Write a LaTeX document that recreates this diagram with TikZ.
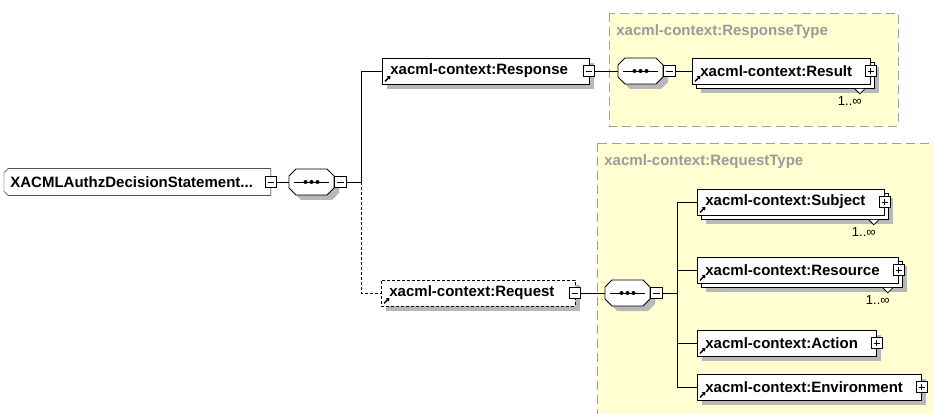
\documentclass[tikz,border=0pt]{standalone}
\usepackage{fontspec}
\setmainfont{Liberation Sans}
\usetikzlibrary{shadows,arrows.meta,backgrounds}
\colorlet{shadowgray}{black!28}
\definecolor{ybg}{HTML}{FFFFD2}
\definecolor{ttl}{HTML}{9A9A9A}
\definecolor{bdr}{HTML}{A0A0A0}

\newcommand\octdraw[1]{%
 \begin{scope}[shift={(#1.center)}]
  \fill[shadowgray] (-10.5,-8) -- (20.5,-8) -- (27.5,-1) -- (27.5,11) -- (20.5,18) -- (-10.5,18) -- (-17.5,11) -- (-17.5,-1) -- cycle;
  \draw[fill=white] (-15.5,-13) -- (15.5,-13) -- (22.5,-6) -- (22.5,6) -- (15.5,13) -- (-15.5,13) -- (-22.5,6) -- (-22.5,-6) -- cycle;
  \draw (-17.5,0) -- (17.5,0);
  \fill (-6,0) circle (2) (0,0) circle (2) (6,0) circle (2);
 \end{scope}}
\newcommand\refico[1]{\draw[line width=1.3pt,-{Triangle[length=3pt,width=4.5pt]}] ([xshift=3pt,yshift=3pt]#1.south west) -- ++(5.5pt,5.5pt);}
\newcommand\multnotch[1]{%
 \draw[fill=white,line width=0.8pt] ([xshift=-16pt,yshift=-4.4pt]#1.south east) -- ([xshift=-11pt,yshift=-9.4pt]#1.south east) -- ([xshift=-6pt,yshift=-4.4pt]#1.south east);
 \node[mult] (#1-m) at ([xshift=-21pt,yshift=-17pt]#1.south east) {1..∞};}

\begin{document}
\begin{tikzpicture}[x=1pt,y=-1pt,line width=0.8pt,
  efont/.style={font=\fontsize{15}{18}\selectfont\bfseries},
  ebase/.style={rectangle, draw=black, fill=white, line width=0.8pt, minimum height=26pt, inner xsep=8pt, inner ysep=0pt, anchor=west, align=left, efont},
  elem/.style={ebase, general shadow={shadow xshift=5pt,shadow yshift=-5pt,fill=shadowgray,draw=none}},
  melem/.style={ebase, general shadow={shadow xshift=9pt,shadow yshift=-9pt,fill=shadowgray,draw=none}, general shadow={shadow xshift=4pt,shadow yshift=-4pt,fill=white,draw=black,line width=0.8pt}},
  rootbox/.style={ebase, draw=none, fill=none, inner xsep=6pt},
  octn/.style={rectangle, minimum width=45pt, minimum height=26pt, inner sep=0pt},
  pmbase/.style={rectangle, draw=black, fill=white, line width=0.8pt, minimum size=11.5pt, inner sep=0pt},
  pmminus/.style={pmbase, path picture={\draw[line width=0.8pt] ([xshift=2.5pt]path picture bounding box.west) -- ([xshift=-2.5pt]path picture bounding box.east);}},
  pmplus/.style={pmbase, path picture={\draw[line width=0.8pt] ([xshift=2.5pt]path picture bounding box.west) -- ([xshift=-2.5pt]path picture bounding box.east) ([yshift=2.5pt]path picture bounding box.south) -- ([yshift=-2.5pt]path picture bounding box.north);}},
  ybox/.style={fill=ybg, draw=bdr, line width=0.9pt, dash pattern=on 9pt off 5pt},
  ttlf/.style={font=\fontsize{15}{18}\selectfont\bfseries, text=ttl, anchor=west, inner sep=0pt},
  mult/.style={font=\fontsize{13}{15}\selectfont, inner sep=0pt},
  optl/.style={dash pattern=on 3pt off 2pt}
]
\useasboundingbox (0,0) rectangle (934,414);
\clip (0,0) rectangle (934,414);

% type boxes
\draw[ybox] (609,13) rectangle (898,126);
\draw[ybox] (597,143) rectangle (945,430);
\node[ttlf] (t1) at (616,32) {xacml-context:ResponseType};
\node[ttlf] (t2) at (604,162) {xacml-context:RequestType};

% root
\node[rootbox, text width=254pt] (root) at (4,182) {\mbox{XACMLAuthzDecisionStatement...}};
\begin{scope}[on background layer]
 \fill[white] (0,0) rectangle (600,414);
 \begin{scope}[shift={(5pt,-5pt)}]
  \fill[shadowgray] ([xshift=4pt]root.north west) -- (root.north east) -- (root.south east) -- ([xshift=4pt]root.south west) -- ([yshift=4pt]root.south west) -- ([yshift=-4pt]root.north west) -- cycle;
 \end{scope}
 \draw[fill=white] ([xshift=4pt]root.north west) -- (root.north east) -- (root.south east) -- ([xshift=4pt]root.south west) -- ([yshift=4pt]root.south west) -- ([yshift=-4pt]root.north west) -- cycle;
\end{scope}
\node[pmminus] (rootm) at (root.east) {};

% first compositor
\node[octn] (oct1) at (311.5,182) {};
\octdraw{oct1}
\node[pmminus, anchor=west] (oct1m) at (oct1.east) {};
\coordinate (j1) at (361,182);

% Response
\node[elem, text width=191pt] (resp) at (382,71) {\mbox{xacml-context:Response}};
\refico{resp}
\node[pmminus] (respm) at ([xshift=-1pt]resp.east) {};

\node[octn] (oct2) at (640.5,71) {};
\octdraw{oct2}
\node[pmminus, anchor=west] (oct2m) at (oct2.east) {};

\node[melem, text width=162pt] (result) at (692,71) {\mbox{xacml-context:Result}};
\refico{result}
\node[pmplus] (resultp) at (result.east) {};
\multnotch{result}

% Request
\node[elem, optl, text width=178pt] (req) at (381,293) {\mbox{xacml-context:Request}};
\refico{req}
\node[pmminus] (reqm) at ([xshift=-1pt]req.east) {};

\node[octn] (oct3) at (627.5,293) {};
\octdraw{oct3}
\node[pmminus, anchor=west] (oct3m) at (oct3.east) {};
\coordinate (j2) at (677,293);

\node[melem, text width=171pt] (subj) at (697,202) {\mbox{xacml-context:Subject}};
\refico{subj}
\node[pmplus] (subjp) at (subj.east) {};
\multnotch{subj}

\node[melem, text width=185pt] (res) at (697,270) {\mbox{xacml-context:Resource}};
\refico{res}
\node[pmplus] (resp2) at (res.east) {};
\multnotch{res}

\node[elem, text width=163pt] (act) at (697,343) {\mbox{xacml-context:Action}};
\refico{act}
\node[pmplus] (actp) at (act.east) {};

\node[elem, text width=208pt] (env) at (697,387) {\mbox{xacml-context:Environment}};
\refico{env}
\node[pmplus] (envp) at (env.east) {};

% connectors
\draw (rootm.east) -- (oct1.west);
\draw (oct1m.east) -- (j1);
\draw (j1) |- (resp.west);
\draw[optl] (j1) |- (req.west);
\draw (respm.east) -- (oct2.west);
\draw (oct2m.east) -- (result.west);
\draw (reqm.east) -- (oct3.west);
\draw (oct3m.east) -- (j2);
\draw (j2) |- (subj.west);
\draw (j2) |- (res.west);
\draw (j2) |- (act.west);
\draw (j2) |- (env.west);
\end{tikzpicture}
\end{document}
